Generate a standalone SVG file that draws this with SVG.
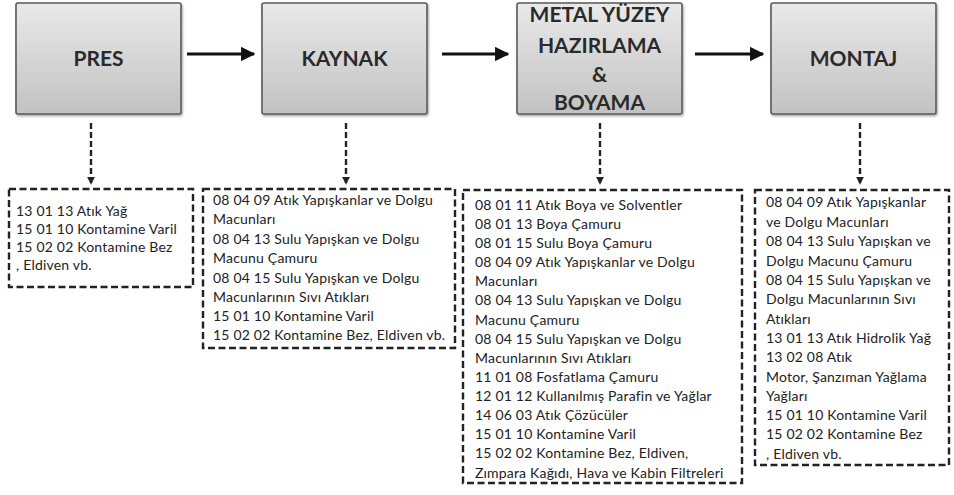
<svg xmlns="http://www.w3.org/2000/svg" width="954" height="495" viewBox="0 0 954 495">
<style>
.proc{fill:url(#g);stroke:#5a5a5a;stroke-width:1.6}
.pt{font-family:Lato,"Liberation Sans",sans-serif;font-weight:bold;font-size:21px;fill:#2a2a2a;text-anchor:middle}
.lst{fill:#fff;stroke:#222;stroke-width:2.4;stroke-dasharray:7 3.5}
.t{font-family:Lato,"Liberation Sans",sans-serif;font-size:14px;letter-spacing:0.2px;fill:#222}
.flow{stroke:#111;stroke-width:3.2;fill:none;marker-end:url(#ah)}
.drop{stroke:#222;stroke-width:2.4;fill:none;stroke-dasharray:6 3;marker-end:url(#ad)}
</style>
<defs>
<linearGradient id="g" x1="0" y1="0" x2="0" y2="1">
<stop offset="0" stop-color="#e9e9e9"/>
<stop offset="1" stop-color="#c2c2c2"/>
</linearGradient>
<filter id="sh" x="-5%" y="-5%" width="115%" height="115%">
<feDropShadow dx="1" dy="1.5" stdDeviation="1.2" flood-color="#000" flood-opacity="0.35"/>
</filter>
<marker id="ah" viewBox="0 0 10 10" refX="9" refY="5" markerWidth="4.5" markerHeight="4.5" orient="auto" markerUnits="strokeWidth">
<path d="M0,0 L10,5 L0,10 z" fill="#111"/>
</marker>
<marker id="ad" viewBox="0 0 10 10" refX="9" refY="5" markerWidth="3.4" markerHeight="3.4" orient="auto" markerUnits="strokeWidth">
<path d="M0,0 L10,5 L0,10 z" fill="#222"/>
</marker>
</defs>

<g id="connectors">
<line class="flow" x1="187" y1="54" x2="254" y2="54"/>
<line class="flow" x1="442" y1="54" x2="508" y2="54"/>
<line class="flow" x1="695" y1="54" x2="763" y2="54"/>
<line class="drop" x1="91" y1="123" x2="91" y2="184"/>
<line class="drop" x1="346" y1="123" x2="346" y2="184"/>
<line class="drop" x1="600" y1="123" x2="600" y2="184"/>
<line class="drop" x1="860" y1="123" x2="860" y2="184"/>
</g>

<g id="pres">
<rect class="proc" x="16" y="3" width="165" height="111" rx="2" filter="url(#sh)"/>
<text class="pt" x="98.5" y="66">PRES</text>
</g>
<g id="kaynak">
<rect class="proc" x="262" y="3" width="165" height="111" rx="2" filter="url(#sh)"/>
<text class="pt" x="344.5" y="66">KAYNAK</text>
</g>
<g id="boyama">
<rect class="proc" x="517" y="3" width="165" height="111" rx="2" filter="url(#sh)"/>
<text class="pt" x="599.5" y="22">METAL YÜZEY</text>
<text class="pt" x="599.5" y="53">HAZIRLAMA</text>
<text class="pt" x="599.5" y="82">&amp;</text>
<text class="pt" x="599.5" y="110">BOYAMA</text>
</g>
<g id="montaj">
<rect class="proc" x="771" y="3" width="165" height="111" rx="2" filter="url(#sh)"/>
<text class="pt" x="853.5" y="66">MONTAJ</text>
</g>

<g id="pres-waste">
<rect class="lst" x="9" y="189" width="184" height="98"/>
<text class="t" x="16" y="216">13 01 13 Atık Yağ</text>
<text class="t" x="16" y="234">15 01 10 Kontamine Varil</text>
<text class="t" x="16" y="252">15 02 02 Kontamine Bez</text>
<text class="t" x="16" y="270">, Eldiven vb.</text>
</g>

<g id="kaynak-waste">
<rect class="lst" x="203" y="189" width="252" height="159"/>
<text class="t" x="213" y="205">08 04 09 Atık Yapışkanlar ve Dolgu</text>
<text class="t" x="213" y="224">Macunları</text>
<text class="t" x="213" y="244">08 04 13 Sulu Yapışkan ve Dolgu</text>
<text class="t" x="213" y="263">Macunu Çamuru</text>
<text class="t" x="213" y="283">08 04 15 Sulu Yapışkan ve Dolgu</text>
<text class="t" x="213" y="302">Macunlarının Sıvı Atıkları</text>
<text class="t" x="213" y="321">15 01 10 Kontamine Varil</text>
<text class="t" x="213" y="340">15 02 02 Kontamine Bez, Eldiven vb.</text>
</g>

<g id="boyama-waste">
<rect class="lst" x="463" y="190" width="279" height="293"/>
<text class="t" x="475" y="210">08 01 11 Atık Boya ve Solventler</text>
<text class="t" x="475" y="229">08 01 13 Boya Çamuru</text>
<text class="t" x="475" y="248">08 01 15 Sulu Boya Çamuru</text>
<text class="t" x="475" y="267">08 04 09 Atık Yapışkanlar ve Dolgu</text>
<text class="t" x="475" y="286">Macunları</text>
<text class="t" x="475" y="305">08 04 13 Sulu Yapışkan ve Dolgu</text>
<text class="t" x="475" y="325">Macunu Çamuru</text>
<text class="t" x="475" y="344">08 04 15 Sulu Yapışkan ve Dolgu</text>
<text class="t" x="475" y="363">Macunlarının Sıvı Atıkları</text>
<text class="t" x="475" y="382">11 01 08 Fosfatlama Çamuru</text>
<text class="t" x="475" y="401">12 01 12 Kullanılmış Parafin ve Yağlar</text>
<text class="t" x="475" y="420">14 06 03 Atık Çözücüler</text>
<text class="t" x="475" y="439">15 01 10 Kontamine Varil</text>
<text class="t" x="475" y="458">15 02 02 Kontamine Bez,  Eldiven,</text>
<text class="t" x="475" y="478">Zımpara Kağıdı, Hava ve Kabin Filtreleri</text>
</g>

<g id="montaj-waste">
<rect class="lst" x="755" y="190" width="194" height="275"/>
<text class="t" x="766" y="207">08 04 09 Atık Yapışkanlar</text>
<text class="t" x="766" y="227">ve Dolgu Macunları</text>
<text class="t" x="766" y="246">08 04 13 Sulu Yapışkan ve</text>
<text class="t" x="766" y="266">Dolgu Macunu Çamuru</text>
<text class="t" x="766" y="285">08 04 15 Sulu Yapışkan ve</text>
<text class="t" x="766" y="304">Dolgu Macunlarının Sıvı</text>
<text class="t" x="766" y="324">Atıkları</text>
<text class="t" x="766" y="343">13 01 13 Atık Hidrolik Yağ</text>
<text class="t" x="766" y="362">13 02 08  Atık</text>
<text class="t" x="766" y="382">Motor, Şanzıman Yağlama</text>
<text class="t" x="766" y="401">Yağları</text>
<text class="t" x="766" y="420">15 01 10 Kontamine Varil</text>
<text class="t" x="766" y="439">15 02 02 Kontamine Bez</text>
<text class="t" x="766" y="459">, Eldiven vb.</text>
</g>
</svg>
